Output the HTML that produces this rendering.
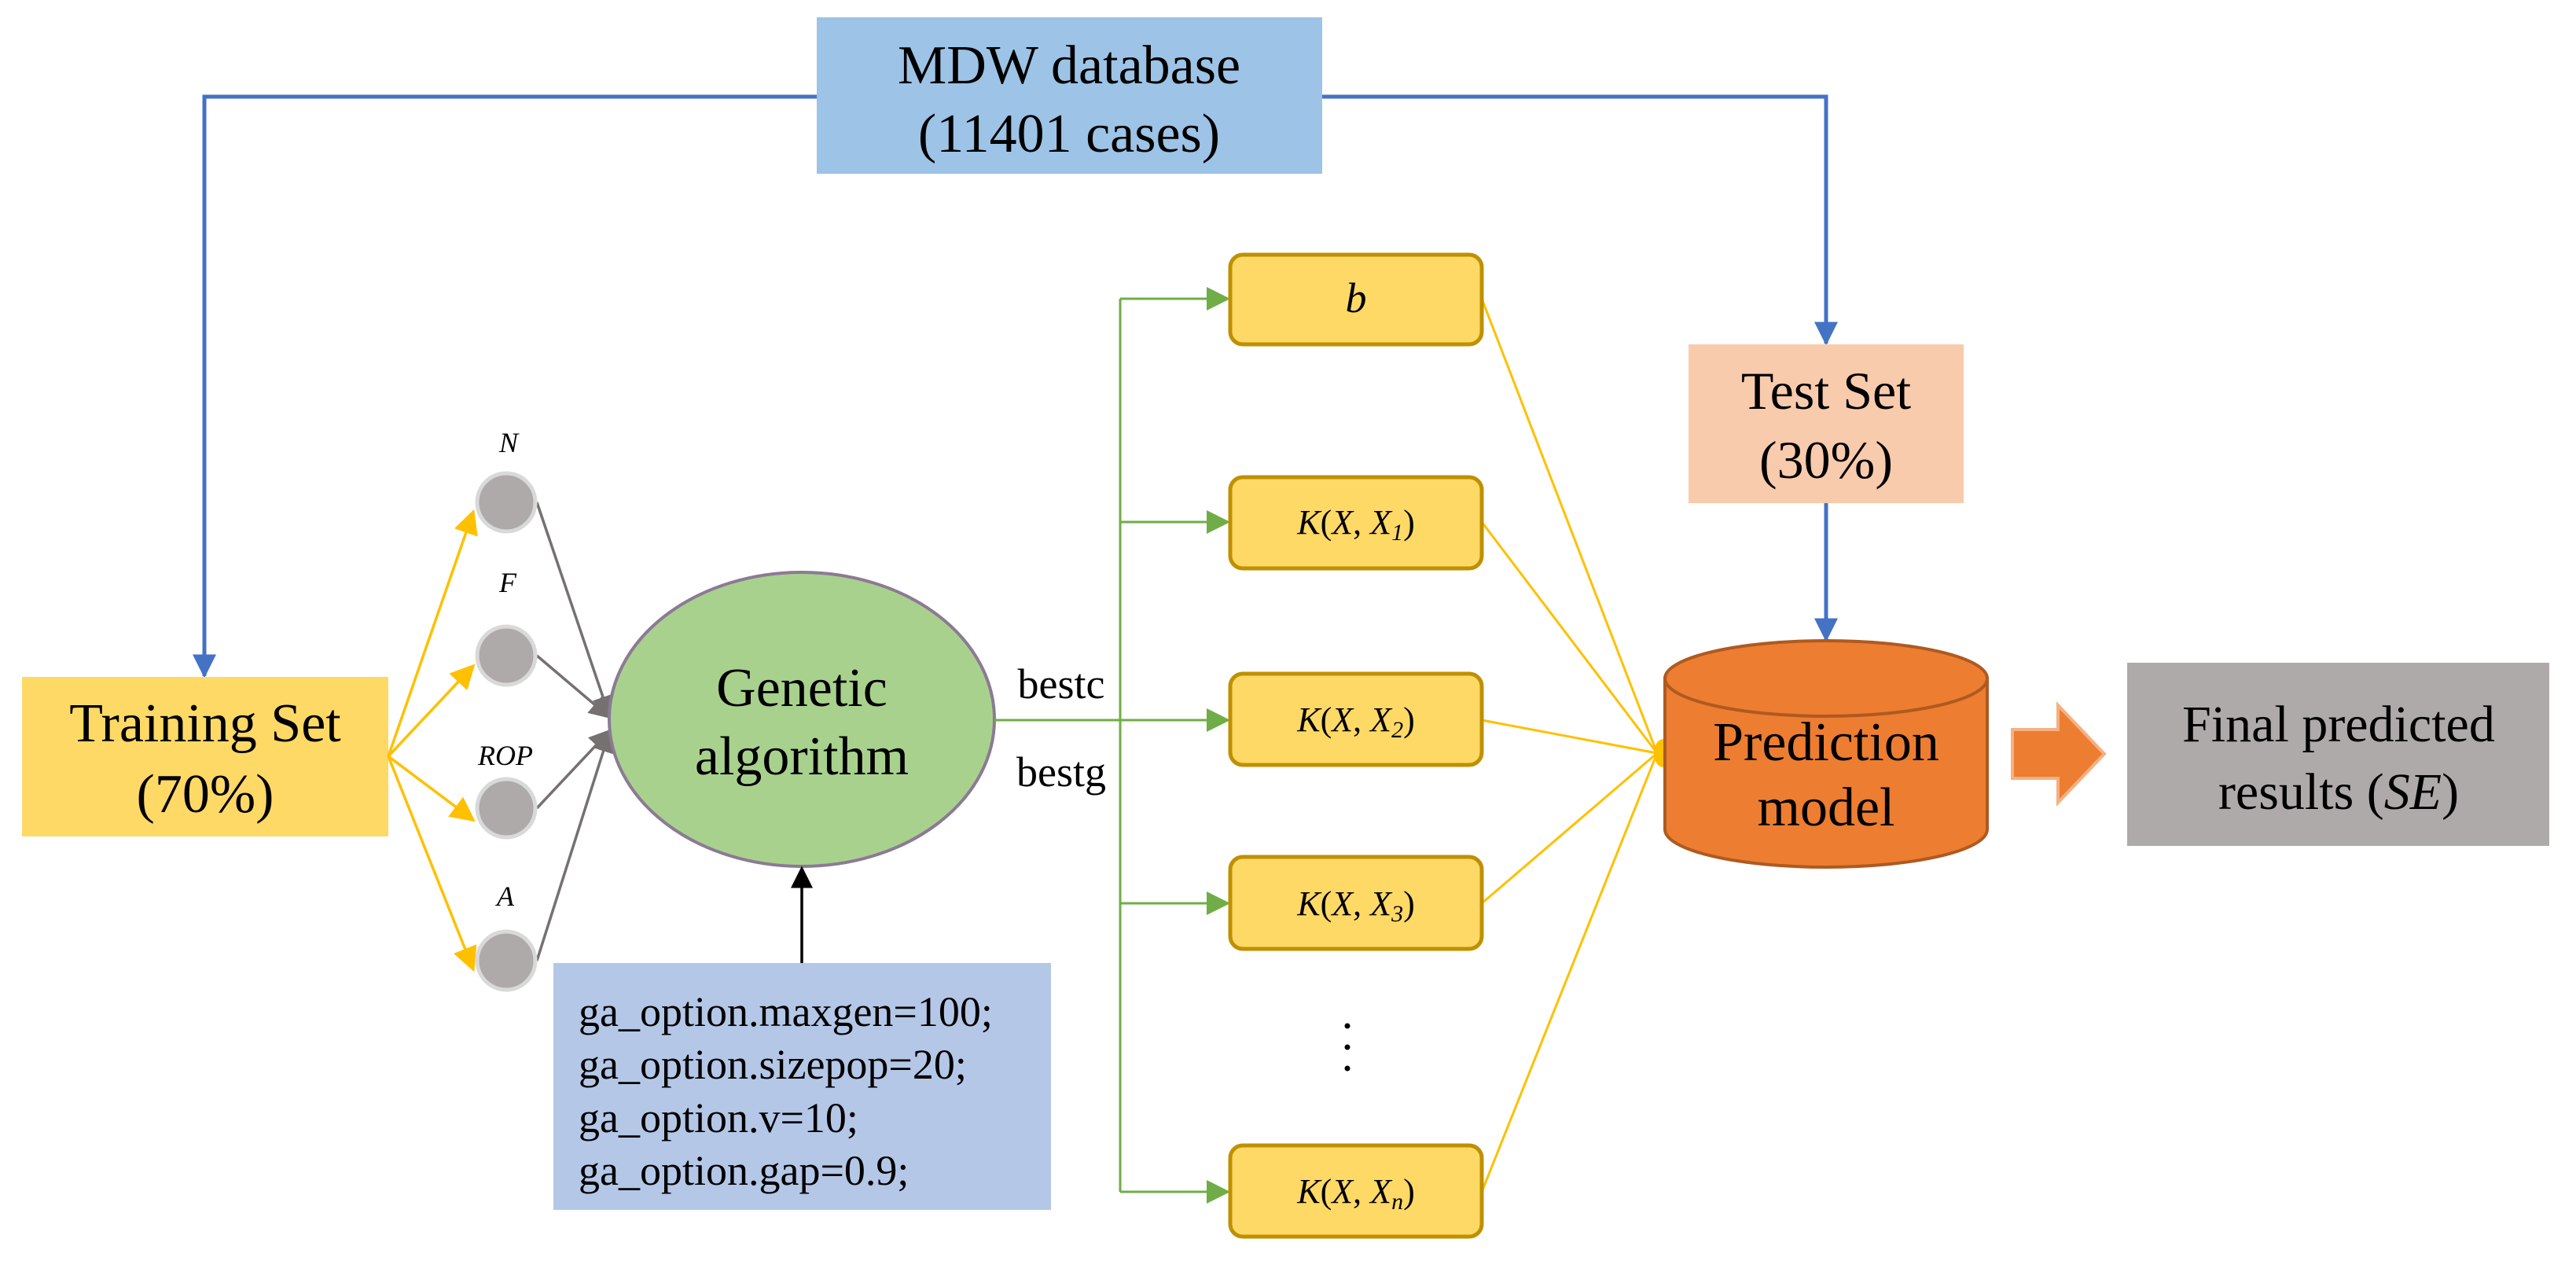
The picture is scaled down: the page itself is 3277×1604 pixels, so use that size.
<!DOCTYPE html>
<html><head><meta charset="utf-8"><style>html,body{margin:0;padding:0;background:#fff}svg{display:block}text,tspan{font-family:"Liberation Serif","Times New Roman",serif}</style></head>
<body>
<svg xmlns="http://www.w3.org/2000/svg" width="3277" height="1604" viewBox="0 0 3277 1604" style="font-family:'Liberation Serif',serif">
<defs>
<marker id="ab" markerWidth="6" markerHeight="6" refX="5.5" refY="3" orient="auto" markerUnits="strokeWidth"><path d="M0,0 L6,3 L0,6 z" fill="#4472C4"/></marker>
<marker id="ag" markerWidth="10" markerHeight="10" refX="9" refY="5" orient="auto" markerUnits="strokeWidth"><path d="M0,0 L10,5 L0,10 z" fill="#70AD47"/></marker>
<marker id="ay" markerWidth="9" markerHeight="9" refX="8" refY="4.5" orient="auto" markerUnits="strokeWidth"><path d="M0,0 L9,4.5 L0,9 z" fill="#FFC000"/></marker>
<marker id="agr" markerWidth="8" markerHeight="8" refX="7" refY="4" orient="auto" markerUnits="strokeWidth"><path d="M0,0 L8,4 L0,8 z" fill="#767171"/></marker>
<marker id="ak" markerWidth="8" markerHeight="8" refX="7" refY="4" orient="auto" markerUnits="strokeWidth"><path d="M0,0 L8,4 L0,8 z" fill="#000"/></marker>
</defs>

<polyline points="1040,123 260,123 260,860" fill="none" stroke="#4472C4" stroke-width="5" marker-end="url(#ab)"/>
<polyline points="1682,123 2323,123 2323,437" fill="none" stroke="#4472C4" stroke-width="5" marker-end="url(#ab)"/>
<line x1="2323" y1="640" x2="2323" y2="814" stroke="#4472C4" stroke-width="5" marker-end="url(#ab)"/>

<rect x="1039" y="22" width="643" height="199" fill="#9DC3E6"/>
<text x="1360" y="106" font-size="70" text-anchor="middle">MDW database</text>
<text x="1360" y="193" font-size="70" text-anchor="middle">(11401 cases)</text>

<rect x="28" y="861" width="466" height="203" fill="#FFD966"/>
<text x="261" y="943" font-size="70" text-anchor="middle">Training Set</text>
<text x="261" y="1033" font-size="70" text-anchor="middle">(70%)</text>

<g stroke="#FFC000" stroke-width="3.5" fill="none">
<line x1="494" y1="962" x2="602" y2="651" marker-end="url(#ay)"/>
<line x1="494" y1="962" x2="602" y2="847" marker-end="url(#ay)"/>
<line x1="494" y1="962" x2="602" y2="1043" marker-end="url(#ay)"/>
<line x1="494" y1="962" x2="602" y2="1233" marker-end="url(#ay)"/>
</g>
<g stroke="#767171" stroke-width="3.5" fill="none">
<line x1="683" y1="639" x2="775" y2="910" marker-end="url(#agr)"/>
<line x1="683" y1="834" x2="775" y2="912" marker-end="url(#agr)"/>
<line x1="683" y1="1028" x2="775" y2="930" marker-end="url(#agr)"/>
<line x1="683" y1="1222" x2="775" y2="932" marker-end="url(#agr)"/>
</g>
<g fill="#AEAAAA" stroke="#D9D9D9" stroke-width="5">
<circle cx="644" cy="639" r="37"/>
<circle cx="644" cy="834" r="37"/>
<circle cx="644" cy="1028" r="37"/>
<circle cx="644" cy="1222" r="37"/>
</g>
<g font-size="36" font-style="italic" text-anchor="middle">
<text x="647" y="575">N</text>
<text x="646" y="753">F</text>
<text x="643" y="973">ROP</text>
<text x="643" y="1152">A</text>
</g>

<ellipse cx="1020" cy="915" rx="245" ry="187" fill="#A9D18E" stroke="#8C7A94" stroke-width="4"/>
<text x="1020" y="898" font-size="70" text-anchor="middle">Genetic</text>
<text x="1020" y="985" font-size="70" text-anchor="middle">algorithm</text>

<line x1="1020" y1="1225" x2="1020" y2="1105" stroke="#000" stroke-width="3.5" marker-end="url(#ak)"/>
<rect x="704" y="1225" width="633" height="314" fill="#B4C7E7"/>
<g font-size="54">
<text x="736" y="1305">ga_option.maxgen=100;</text>
<text x="736" y="1372">ga_option.sizepop=20;</text>
<text x="736" y="1440">ga_option.v=10;</text>
<text x="736" y="1507">ga_option.gap=0.9;</text>
</g>

<text x="1350" y="888" font-size="54" text-anchor="middle">bestc</text>
<text x="1350" y="1000" font-size="54" text-anchor="middle">bestg</text>

<g stroke="#70AD47" stroke-width="3" fill="none">
<line x1="1265" y1="916" x2="1425" y2="916"/>
<line x1="1425" y1="380" x2="1425" y2="1516"/>
<line x1="1425" y1="380" x2="1562" y2="380" marker-end="url(#ag)"/>
<line x1="1425" y1="664" x2="1562" y2="664" marker-end="url(#ag)"/>
<line x1="1425" y1="916" x2="1562" y2="916" marker-end="url(#ag)"/>
<line x1="1425" y1="1149" x2="1562" y2="1149" marker-end="url(#ag)"/>
<line x1="1425" y1="1516" x2="1562" y2="1516" marker-end="url(#ag)"/>
</g>

<g stroke="#FFC000" stroke-width="3" fill="none">
<line x1="1885" y1="380" x2="2108" y2="958"/>
<line x1="1885" y1="664" x2="2108" y2="958"/>
<line x1="1885" y1="916" x2="2108" y2="958"/>
<line x1="1885" y1="1149" x2="2108" y2="958"/>
<line x1="1885" y1="1516" x2="2108" y2="958"/>
</g>

<g fill="#FFD966" stroke="#BF9000" stroke-width="5">
<rect x="1565" y="324" width="320" height="114" rx="16"/>
<rect x="1565" y="607" width="320" height="116" rx="16"/>
<rect x="1565" y="857" width="320" height="116" rx="16"/>
<rect x="1565" y="1090" width="320" height="117" rx="16"/>
<rect x="1565" y="1457" width="320" height="116" rx="16"/>
</g>
<text x="1725" y="397" font-size="54" font-style="italic" text-anchor="middle">b</text>
<g font-size="44" text-anchor="middle">
<text x="1725" y="679"><tspan font-style="italic">K</tspan>(<tspan font-style="italic">X</tspan>, <tspan font-style="italic">X</tspan><tspan font-style="italic" font-size="30" dy="8">1</tspan><tspan dy="-8">)</tspan></text>
<text x="1725" y="930"><tspan font-style="italic">K</tspan>(<tspan font-style="italic">X</tspan>, <tspan font-style="italic">X</tspan><tspan font-style="italic" font-size="30" dy="8">2</tspan><tspan dy="-8">)</tspan></text>
<text x="1725" y="1164"><tspan font-style="italic">K</tspan>(<tspan font-style="italic">X</tspan>, <tspan font-style="italic">X</tspan><tspan font-style="italic" font-size="30" dy="8">3</tspan><tspan dy="-8">)</tspan></text>
<text x="1725" y="1530"><tspan font-style="italic">K</tspan>(<tspan font-style="italic">X</tspan>, <tspan font-style="italic">X</tspan><tspan font-style="italic" font-size="30" dy="8">n</tspan><tspan dy="-8">)</tspan></text>
</g>
<g fill="#000">
<circle cx="1714" cy="1305" r="3.5"/>
<circle cx="1714" cy="1332" r="3.5"/>
<circle cx="1714" cy="1359" r="3.5"/>
</g>

<rect x="2148" y="438" width="350" height="202" fill="#F8CBAD"/>
<text x="2323" y="520" font-size="68" text-anchor="middle">Test Set</text>
<text x="2323" y="608" font-size="68" text-anchor="middle">(30%)</text>

<path d="M2118,863 L2118,1055 A205,48 0 0 0 2528,1055 L2528,863 Z" fill="#ED7D31" stroke="#AE5A21" stroke-width="4"/>
<ellipse cx="2323" cy="863" rx="205" ry="48" fill="#ED7D31" stroke="#AE5A21" stroke-width="4"/>
<path d="M2116,940 A12,18 0 0 0 2116,976 Z" fill="#FFC000"/>
<text x="2323" y="967" font-size="70" text-anchor="middle">Prediction</text>
<text x="2323" y="1050" font-size="70" text-anchor="middle">model</text>

<path d="M2560,928 L2618,928 L2618,897 L2677,959 L2618,1021 L2618,990 L2560,990 Z" fill="#ED7D31" stroke="#F4B183" stroke-width="4"/>

<rect x="2706" y="843" width="537" height="233" fill="#AEAAAA"/>
<text x="2975" y="943" font-size="66" text-anchor="middle">Final predicted</text>
<text x="2975" y="1029" font-size="66" text-anchor="middle">results (<tspan font-style="italic">SE</tspan>)</text>
</svg>
</body></html>
